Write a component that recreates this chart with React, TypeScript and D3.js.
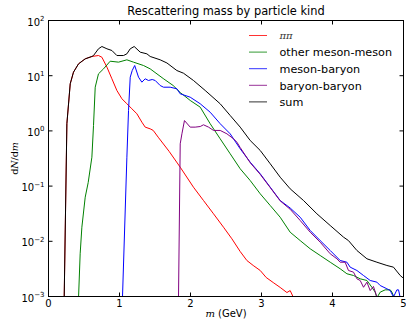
import React from "react";
import * as d3 from "d3";

const title = "Rescattering mass by particle kind";
const xTicks = [0, 1, 2, 3, 4, 5];
const yTickExps = [-3, -2, -1, 0, 1, 2];
const seriesNames = ["ππ", "other meson-meson", "meson-baryon", "baryon-baryon", "sum"];
const seriesColors = ["#ff0000", "#008000", "#0000ff", "#800080", "#000000"];

const piM = [0.221, 0.259, 0.306, 0.352, 0.423, 0.517, 0.611, 0.704, 0.752, 0.823, 0.893, 0.963, 1.034, 1.104, 1.175, 1.245, 1.315, 1.362, 1.432, 1.475, 1.545, 1.70, 1.855, 2.042, 2.183, 2.324, 2.465, 2.583, 2.70, 2.794, 2.883, 2.982, 3.066, 3.165, 3.263, 3.358, 3.404, 3.451];
const piV = [0.00095, 1.35, 7.13, 11.6, 16.4, 20.2, 22.3, 23.2, 21.6, 14.3, 8.79, 5.4, 3.82, 3.1, 2.51, 2.04, 1.44, 1.17, 1.09, 1.02, 0.769, 0.424, 0.22, 0.0955, 0.0548, 0.0315, 0.018, 0.0111, 0.00653, 0.00449, 0.00365, 0.00296, 0.00221, 0.00179, 0.00146, 0.00118, 0.00128, 0.00095];

const mmM = [0.423, 0.446, 0.47, 0.517, 0.559, 0.611, 0.634, 0.658, 0.704, 0.775, 0.869, 0.986, 1.104, 1.197, 1.338, 1.432, 1.615, 1.756, 1.855, 1.996, 2.137, 2.277, 2.418, 2.559, 2.70, 2.841, 2.982, 3.123, 3.263, 3.404, 3.545, 3.686, 3.827, 3.968, 4.108, 4.203, 4.296, 4.39, 4.485, 4.555, 4.601, 4.625, 4.672, 4.742, 4.813, 4.837, 4.869];
const mmV = [0.00095, 0.00594, 0.018, 0.063, 0.116, 0.334, 1.25, 6.19, 10.8, 13.3, 18.3, 17.6, 19.4, 17.6, 15.3, 13.3, 8.9, 6.64, 4.96, 3.56, 2.69, 1.35, 0.719, 0.385, 0.206, 0.126, 0.0725, 0.0445, 0.0273, 0.0146, 0.0103, 0.00731, 0.00553, 0.00418, 0.00318, 0.00258, 0.0024, 0.00209, 0.00195, 0.00147, 0.0012, 0.00095, 0.0012, 0.00132, 0.00132, 0.0012, 0.00095];

const mbM = [1.042, 1.104, 1.127, 1.151, 1.179, 1.214, 1.268, 1.315, 1.362, 1.408, 1.461, 1.503, 1.573, 1.62, 1.714, 1.808, 1.855, 1.996, 2.137, 2.277, 2.418, 2.559, 2.70, 2.841, 2.982, 3.123, 3.263, 3.404, 3.545, 3.686, 3.827, 3.968, 4.108, 4.203, 4.249, 4.344, 4.437, 4.531, 4.625, 4.672, 4.766, 4.813, 4.859, 4.907, 4.93, 4.954];
const mbV = [0.00095, 0.334, 2.34, 9.4, 12.4, 15.3, 9.4, 7.63, 8.79, 8.19, 8.53, 8.19, 6.64, 6.19, 6.19, 5.79, 4.7, 4.08, 3.1, 2.18, 1.35, 0.885, 0.474, 0.271, 0.167, 0.0955, 0.0548, 0.0401, 0.0273, 0.0157, 0.0103, 0.00681, 0.00449, 0.00418, 0.0034, 0.00296, 0.0024, 0.00195, 0.00182, 0.00158, 0.00138, 0.00128, 0.00098, 0.00132, 0.00132, 0.00095];

const bbM = [1.831, 1.855, 1.879, 1.915, 1.996, 2.066, 2.137, 2.183, 2.254, 2.324, 2.418, 2.513, 2.606, 2.654, 2.70, 2.841, 2.982, 3.123, 3.263, 3.404, 3.545, 3.686, 3.827, 3.968, 4.062, 4.108, 4.178, 4.225, 4.296, 4.344, 4.39, 4.437, 4.485, 4.531, 4.577, 4.629];
const bbV = [0.00095, 0.583, 0.885, 1.54, 1.17, 1.17, 1.2, 1.29, 1.17, 1.02, 1.02, 0.885, 0.719, 0.624, 0.5, 0.265, 0.163, 0.094, 0.054, 0.038, 0.0238, 0.0146, 0.00963, 0.00594, 0.00482, 0.00418, 0.00418, 0.00296, 0.00276, 0.00209, 0.00195, 0.00147, 0.00182, 0.00128, 0.00152, 0.00095];

const sumM = [0.221, 0.259, 0.306, 0.352, 0.423, 0.517, 0.611, 0.634, 0.704, 0.752, 0.823, 0.893, 0.963, 1.056, 1.104, 1.151, 1.207, 1.292, 1.386, 1.432, 1.573, 1.668, 1.808, 1.901, 2.042, 2.207, 2.418, 2.559, 2.70, 2.841, 2.982, 3.123, 3.263, 3.404, 3.592, 3.78, 3.968, 4.155, 4.225, 4.344, 4.485, 4.625, 4.766, 4.859, 4.954, 4.992];
const sumV = [0.00095, 1.35, 7.13, 11.6, 16.4, 20.2, 22.3, 23.2, 30.7, 33.8, 30.7, 28.6, 23.2, 23.2, 24.9, 30.7, 33.8, 26.7, 24.9, 22.3, 19.4, 17.0, 12.4, 11.1, 8.19, 5.4, 3.1, 1.9, 1.17, 0.67, 0.442, 0.254, 0.145, 0.0893, 0.0548, 0.0315, 0.0193, 0.0119, 0.0103, 0.00681, 0.00482, 0.00418, 0.00365, 0.0034, 0.0024, 0.00218];

const seriesM = [piM, mmM, mbM, bbM, sumM];
const seriesV = [piV, mmV, mbV, bbV, sumV];

export default function App() {
  const W = 406, H = 321;
  const left = 48.5, right = 403.5, top = 20.5, bottom = 296.5;
  const x = d3.scaleLinear().domain([0, 5]).range([left, right]);
  const y = d3.scaleLog().domain([1e-3, 1e2]).range([bottom, top]);
  const line = d3.line<[number, number]>().x(d => x(d[0])).y(d => y(d[1]));
  const sans = "'DejaVu Sans', sans-serif";
  const serif = "'DejaVu Serif', serif";
  const legendY0 = 35.5, legendDy = 16.6;

  return (
    <>
      <style>{`body{margin:0}`}</style>
      <svg width={W} height={H} style={{ display: "block", background: "#fff" }}>
        <defs>
          <clipPath id="plotclip">
            <rect x={left} y={top} width={right - left} height={bottom - top} />
          </clipPath>
        </defs>
        <rect x={0} y={0} width={W} height={H} fill="#fff" />
        <text x={(left + right) / 2} y={15} textAnchor="middle" fontFamily={sans} fontSize={11.4} fill="#000">{title}</text>
        <g clipPath="url(#plotclip)">
          {seriesM.map((ms, i) => (
            <path key={i} d={line(ms.map((m, j) => [m, seriesV[i][j]] as [number, number])) || ""}
              fill="none" stroke={seriesColors[i]} strokeWidth={1} strokeLinejoin="round" />
          ))}
        </g>
        {/* frame */}
        <rect x={left} y={top} width={right - left} height={bottom - top} fill="none" stroke="#000" strokeWidth={1} />
        {/* x ticks */}
        {xTicks.map(t => (
          <g key={"x" + t}>
            <line x1={x(t)} x2={x(t)} y1={bottom} y2={bottom - 4} stroke="#000" />
            <line x1={x(t)} x2={x(t)} y1={top} y2={top + 4} stroke="#000" />
            <text x={x(t)} y={307} textAnchor="middle" fontFamily={sans} fontSize={10} fill="#000">{t}</text>
          </g>
        ))}
        {/* y ticks */}
        {yTickExps.map(e => {
          const yy = y(Math.pow(10, e));
          return (
            <g key={"y" + e}>
              <line x1={left} x2={left + 4} y1={yy} y2={yy} stroke="#000" />
              <line x1={right} x2={right - 4} y1={yy} y2={yy} stroke="#000" />
              <text x={44.5} y={yy + 5} textAnchor="end" fontFamily={sans} fontSize={10} fill="#000">
                <tspan>10</tspan>
                <tspan dy={-4.5} fontSize={7}>{e < 0 ? "\u2212" + Math.abs(e) : String(e)}</tspan>
              </text>
            </g>
          );
        })}
        {/* axis labels */}
        <text x={(left + right) / 2} y={317} textAnchor="middle" fontFamily={sans} fontSize={10} fill="#000">
          <tspan fontFamily={serif} fontStyle="italic">m</tspan>
          <tspan> (GeV)</tspan>
        </text>
        <text transform={`translate(18,${(top + bottom) / 2}) rotate(-90)`} textAnchor="middle" fontFamily={sans} fontSize={9.5} fill="#000">
          <tspan>d</tspan>
          <tspan fontFamily={serif} fontStyle="italic">N</tspan>
          <tspan>/d</tspan>
          <tspan fontFamily={serif} fontStyle="italic">m</tspan>
        </text>
        {/* legend */}
        {seriesNames.map((name, i) => {
          const ly = legendY0 + i * legendDy;
          return (
            <g key={"l" + i}>
              <line x1={249} x2={267} y1={ly} y2={ly} stroke={seriesColors[i]} strokeWidth={1} opacity={0.8} />
              {i === 0 ? (
                <text x={279.5} y={ly + 3} fontFamily={serif} fontStyle="italic" fontSize={10} fill="#333">{name}</text>
              ) : (
                <text x={279.5} y={ly + 4.2} fontFamily={sans} fontSize={11.2} fill="#000">{name}</text>
              )}
            </g>
          );
        })}
      </svg>
    </>
  );
}
